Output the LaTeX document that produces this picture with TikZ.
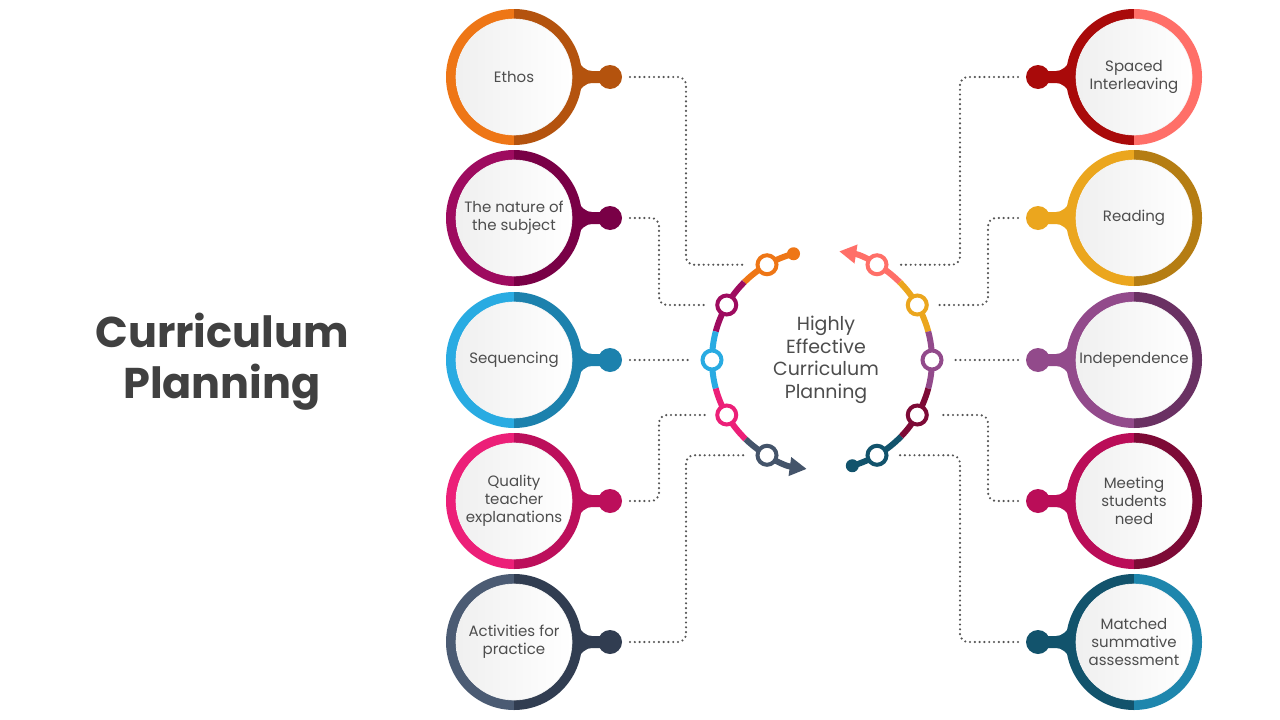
\documentclass[tikz,border=0pt]{standalone}
\usepackage{fontspec}
\setmainfont{Poppins}
\usetikzlibrary{calc,arrows.meta}
\definecolor{ethosL}{HTML}{EE7616}\definecolor{ethosD}{HTML}{B4530E}
\definecolor{natL}{HTML}{9E0B5F}\definecolor{natD}{HTML}{790046}
\definecolor{seqL}{HTML}{29ABE2}\definecolor{seqD}{HTML}{1C81AD}
\definecolor{qualL}{HTML}{EC1F78}\definecolor{qualD}{HTML}{BC0F5B}
\definecolor{actL}{HTML}{4B5B73}\definecolor{actD}{HTML}{313D51}
\definecolor{actArc}{HTML}{44546A}
\definecolor{spL}{HTML}{FF6F68}\definecolor{spD}{HTML}{A90A0A}
\definecolor{readL}{HTML}{EBA61E}\definecolor{readD}{HTML}{B57D13}
\definecolor{indL}{HTML}{924A8B}\definecolor{indD}{HTML}{6A3163}
\definecolor{meetL}{HTML}{BA0D58}\definecolor{meetD}{HTML}{7D0A36}
\definecolor{matL}{HTML}{1E86AD}\definecolor{matD}{HTML}{12536C}
\definecolor{txt}{HTML}{4D4D4D}\definecolor{titlec}{HTML}{404040}
\definecolor{dotc}{HTML}{555555}
\tikzset{
  knob/.style={circle, minimum size=24pt, inner sep=0pt, outer sep=0pt},
  disc/.style={circle, minimum size=116pt, inner sep=0pt, left color=black!6, right color=white, draw=black!4, line width=0.6pt, align=center, font=\fontsize{15}{18}\selectfont, text=txt},
  sc/.style={circle, draw, line width=4pt, fill=white, minimum size=19pt, inner sep=0pt},
  seg/.style={line width=6pt},
  conn/.style={draw=dotc, line width=2.4pt, line cap=round, dash pattern=on 0pt off 4.8pt, rounded corners=8pt, shorten <=8pt, shorten >=10pt},
  enddot/.style={circle, minimum size=13pt, inner sep=0pt},
  arr/.style={-{Triangle[length=17pt,width=18pt]}},
}
\begin{document}
\begin{tikzpicture}[x=1pt,y=-1pt]
\fill[white] (0,0) rectangle (1280,720);
\useasboundingbox (0,0) rectangle (1280,720);

% left circles (knob takes the right colour)
\foreach \i/\yy/\txtl/\lc/\rc in {1/77/{Ethos}/ethosL/ethosD, 2/218/{The nature of\\the subject}/natL/natD, 3/360/{Sequencing}/seqL/seqD, 4/501/{Quality\\teacher\\explanations}/qualL/qualD, 5/642/{Activities for\\practice}/actL/actD}{
  \fill[\rc] (575,\yy-19) .. controls (582,\yy-10) and (586,\yy-6) .. (592,\yy-6) -- (602,\yy-6) -- (602,\yy+6) -- (592,\yy+6) .. controls (586,\yy+6) and (582,\yy+10) .. (575,\yy+19) -- cycle;
  \node[knob, fill=\rc] (kL\i) at (610,\yy) {};
  \fill[\lc] (514,\yy-68) arc[start angle=-90, end angle=-270, radius=68] -- cycle;
  \fill[\rc] (514,\yy-68) arc[start angle=-90, end angle=90, radius=68] -- cycle;
  \node[disc] (cL\i) at (514,\yy) {\txtl};
}
% right circles (knob takes the left colour)
\foreach \i/\yy/\txtl/\lc/\rc in {1/77/{Spaced\\Interleaving}/spD/spL, 2/218/{Reading}/readL/readD, 3/360/{Independence}/indL/indD, 4/501/{Meeting\\students\\need}/meetL/meetD, 5/642/{Matched\\summative\\assessment}/matD/matL}{
  \fill[\lc] (1073,\yy-19) .. controls (1066,\yy-10) and (1062,\yy-6) .. (1056,\yy-6) -- (1046,\yy-6) -- (1046,\yy+6) -- (1056,\yy+6) .. controls (1062,\yy+6) and (1066,\yy+10) .. (1073,\yy+19) -- cycle;
  \node[knob, fill=\lc] (kR\i) at (1038,\yy) {};
  \fill[\lc] (1134,\yy-68) arc[start angle=-90, end angle=-270, radius=68] -- cycle;
  \fill[\rc] (1134,\yy-68) arc[start angle=-90, end angle=90, radius=68] -- cycle;
  \node[disc] (cR\i) at (1134,\yy) {\txtl};
}

% title
\node[font=\fontsize{43}{51}\selectfont\bfseries, text=titlec, align=center] (title) at (222,362) {Curriculum\\Planning};

% centre ring
\coordinate (C) at (822,360);
\draw[seg, ethosL] ($(C)+(-105:110)$) arc[start angle=-105, end angle=-135, radius=110];
\draw[seg, natL] ($(C)+(-135:110)$) arc[start angle=-135, end angle=-165, radius=110];
\draw[seg, seqL] ($(C)+(-165:110)$) arc[start angle=-165, end angle=-195, radius=110];
\draw[seg, qualL] ($(C)+(-195:110)$) arc[start angle=-195, end angle=-226, radius=110];
\draw[seg, actArc, arr] ($(C)+(-226:110)$) arc[start angle=-226, end angle=-262, radius=110];

\draw[seg, spL, arr] ($(C)+(-45:110)$) arc[start angle=-45, end angle=-81, radius=110];
\draw[seg, readL] ($(C)+(-15:110)$) arc[start angle=-15, end angle=-45, radius=110];
\draw[seg, indL] ($(C)+(15:110)$) arc[start angle=15, end angle=-15, radius=110];
\draw[seg, meetD] ($(C)+(44:110)$) arc[start angle=44, end angle=15, radius=110];
\draw[seg, matD] ($(C)+(74:110)$) arc[start angle=74, end angle=44, radius=110];

\node[enddot, fill=ethosL] (eL) at ($(C)+(-105:110)$) {};
\node[enddot, fill=matD] (eR) at ($(C)+(74:110)$) {};

\node[sc, draw=ethosL] (sL1) at ($(C)+(-120:110)$) {};
\node[sc, draw=natL] (sL2) at ($(C)+(-150:110)$) {};
\node[sc, draw=seqL] (sL3) at ($(C)+(180:110)$) {};
\node[sc, draw=qualL] (sL4) at ($(C)+(150:110)$) {};
\node[sc, draw=actArc] (sL5) at ($(C)+(120:110)$) {};
\node[sc, draw=spL] (sR1) at ($(C)+(-60:110)$) {};
\node[sc, draw=readL] (sR2) at ($(C)+(-30:110)$) {};
\node[sc, draw=indL] (sR3) at ($(C)+(0:110)$) {};
\node[sc, draw=meetD] (sR4) at ($(C)+(30:110)$) {};
\node[sc, draw=matD] (sR5) at ($(C)+(60:110)$) {};

\node[font=\fontsize{19}{22.5}\selectfont, text=txt, align=center] (ctr) at (826,360) {Highly\\Effective\\Curriculum\\Planning};

% connectors
\draw[conn] (kL1.east) -- ++(64,0) |- (sL1.west);
\draw[conn] (kL2.east) -- ++(37,0) |- (sL2.west);
\draw[conn] (kL3.east) -- (sL3.west);
\draw[conn] (kL4.east) -- ++(37,0) |- (sL4.west);
\draw[conn] (kL5.east) -- ++(64,0) |- (sL5.west);
\draw[conn] (kR1.west) -- ++(-66,0) |- (sR1.east);
\draw[conn] (kR2.west) -- ++(-38,0) |- (sR2.east);
\draw[conn] (kR3.west) -- (sR3.east);
\draw[conn] (kR4.west) -- ++(-38,0) |- (sR4.east);
\draw[conn] (kR5.west) -- ++(-66,0) |- (sR5.east);
\end{tikzpicture}
\end{document}
